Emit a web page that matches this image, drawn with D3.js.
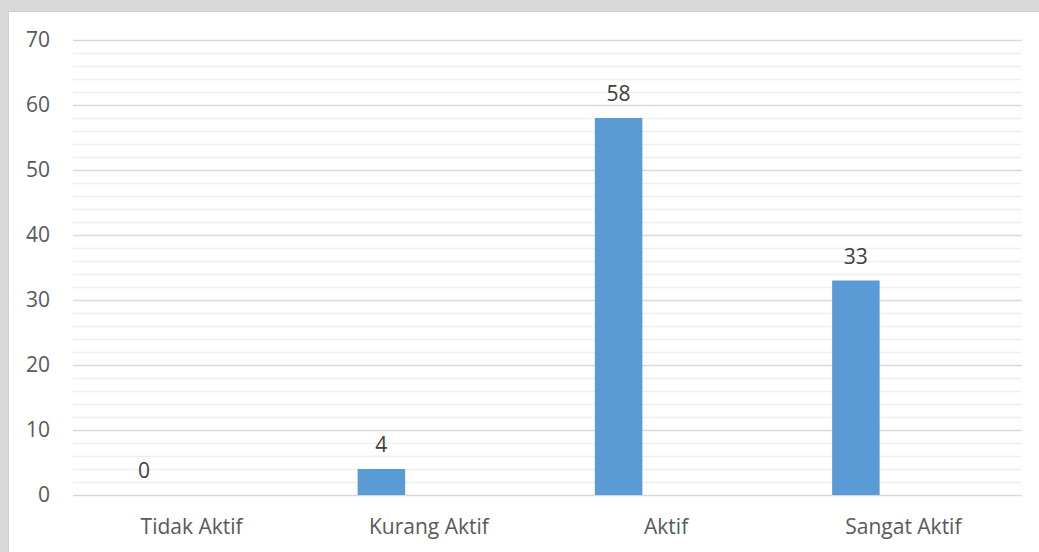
<!DOCTYPE html>
<html><head><meta charset="utf-8">
<script src="https://cdn.jsdelivr.net/npm/d3@7"></script>
<style>
html,body{margin:0;padding:0;background:#d9d9d9;}
svg{display:block;}
text{font-family:"Open Sans",sans-serif;fill:#595959;}
</style></head>
<body>
<svg id="chart" width="1039" height="552"></svg>
<script>
const categories = ["Tidak Aktif", "Kurang Aktif", "Aktif", "Sangat Aktif"];
const values = [0, 4, 58, 33];
const yTicks = [0, 10, 20, 30, 40, 50, 60, 70];
const yMinor = [2, 4, 6, 8, 12, 14, 16, 18, 22, 24, 26, 28, 32, 34, 36, 38, 42, 44, 46, 48, 52, 54, 56, 58, 62, 64, 66, 68];

(function () {
const W = 1039, H = 552;
const svg = d3.select("#chart");
// chart frame
svg.append("rect").attr("x", 8.5).attr("y", 11.5).attr("width", W).attr("height", H)
  .attr("fill", "#fff").attr("stroke", "#d0d0d0");

const mLeft = 73, mRight = 1022, mTop = 40, mBottom = 495;
const x = d3.scaleBand().domain(categories).range([mLeft, mRight]).paddingInner(0).paddingOuter(0);
const y = d3.scaleLinear().domain([0, 70]).range([mBottom, mTop]);

// minor gridlines
svg.append("g").selectAll("line").data(yMinor).join("line")
  .attr("x1", mLeft).attr("x2", mRight).attr("y1", d => Math.round(y(d)) + 0.5).attr("y2", d => Math.round(y(d)) + 0.5)
  .attr("stroke", "#efefef").attr("stroke-width", 1.5);
// major gridlines
svg.append("g").selectAll("line").data(yTicks).join("line")
  .attr("x1", mLeft).attr("x2", mRight).attr("y1", d => Math.round(y(d)) + 0.5).attr("y2", d => Math.round(y(d)) + 0.5)
  .attr("stroke", "#d9d9d9").attr("stroke-width", 1.5);

// y axis labels
const yAxis = d3.axisLeft(y).tickValues(yTicks).tickSize(0).tickPadding(0);
const yg = svg.append("g").attr("transform", `translate(50,0)`).call(yAxis);
yg.select(".domain").remove();
yg.selectAll("text").style("font-size", "21px").attr("fill", "#595959").attr("font-family", "Open Sans");

// x axis labels
const xAxis = d3.axisBottom(x).tickSize(0).tickPadding(0);
const xg = svg.append("g").attr("transform", `translate(0,${mBottom + 24})`).call(xAxis);
xg.select(".domain").remove();
xg.selectAll("text").style("font-size", "21px").attr("fill", "#595959").attr("font-family", "Open Sans");

// bars (first series of a 3-series cluster)
const bw = 47.5;
const barX = c => x(c) + x.bandwidth() / 2 - bw * 1.5;
const rows = categories.map((c, i) => ({c, v: values[i]}));
svg.append("g").selectAll("rect").data(rows).join("rect")
  .attr("x", d => barX(d.c)).attr("width", bw)
  .attr("y", d => y(d.v)).attr("height", d => y(0) - y(d.v))
  .attr("fill", "#5b9bd5");

svg.append("g").selectAll("text").data(rows).join("text")
  .attr("x", d => barX(d.c) + bw / 2).attr("y", d => y(d.v) - 17)
  .attr("text-anchor", "middle").style("font-size", "21px").style("fill", "#404040")
  .text(d => d.v);
})();
</script>
</body></html>
